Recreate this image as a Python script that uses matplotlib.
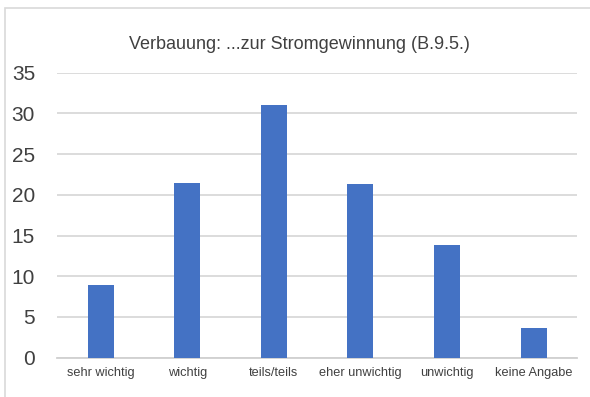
import matplotlib
matplotlib.use("Agg")
import matplotlib.pyplot as plt
from matplotlib.patches import Rectangle

# data (percent of answers)
categories = ["sehr wichtig", "wichtig", "teils/teils", "eher unwichtig",
              "unwichtig", "keine Angabe"]
values = [8.9, 21.5, 31.0, 21.3, 13.8, 3.6]
yticks = [0, 5, 10, 15, 20, 25, 30, 35]
title = "Verbauung: ...zur Stromgewinnung (B.9.5.)"

plt.rcParams["font.family"] = ["Liberation Sans", "DejaVu Sans"]

fig = plt.figure(figsize=(5.9, 3.97), dpi=100)
ax = fig.add_axes([0.097, 0.099, 0.881, 0.718])

x = range(len(categories))
ax.bar(x, values, width=0.3, color="#4472C4", zorder=3)

ax.set_xlim(-0.5, len(categories) - 0.5)
ax.set_ylim(0, 35)
ax.set_yticks(yticks)
ax.set_xticks(list(x))
ax.set_xticklabels(categories, fontsize=9.2, color="#404040")
ax.tick_params(axis="y", labelsize=15, colors="#404040", length=0, pad=16)
ax.tick_params(axis="x", length=0, pad=7)
ax.grid(axis="y", color="#d9d9d9", linewidth=1.3, zorder=0)
for s in ["top", "right", "left"]:
    ax.spines[s].set_visible(False)
ax.spines["bottom"].set_color("#d0d0d0")
ax.spines["bottom"].set_linewidth(1.3)

fig.text(0.508, 0.888, title, ha="center", va="center", fontsize=13,
         color="#404040")

# chart frame (only left and top edges visible in the crop)
fig.patches.append(Rectangle((5 / 590, -0.1), 1.2, 1 - 8 / 397 + 0.1,
                             transform=fig.transFigure, fill=False,
                             edgecolor="#d9d9d9", linewidth=1.2))

fig.savefig("out.png", dpi=100)
